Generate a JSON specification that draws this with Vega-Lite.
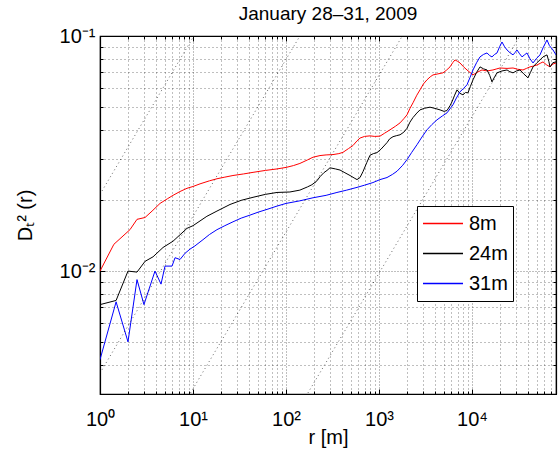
{
  "$schema": "https://vega.github.io/schema/vega-lite/v6.json",
  "width": 456,
  "height": 358,
  "autosize": {"type": "none"},
  "padding": {"left": 100, "top": 36, "right": 2, "bottom": 61},
  "background": "white",
  "title": {"text": "January 28–31, 2009", "fontSize": 19, "font": "Liberation Sans", "fontWeight": "normal", "offset": 2, "color": "black"},
  "config": {
    "view": {"stroke": "black", "strokeWidth": 1.2},
    "axis": {
      "labelFont": "Liberation Sans", "labelFontSize": 20, "labelColor": "black",
      "titleFont": "Liberation Sans", "titleFontSize": 20, "titleFontWeight": "normal", "titleColor": "black",
      "domainColor": "black", "domainWidth": 1.2, "tickColor": "black", "tickSize": -5, "tickWidth": 1,
      "gridColor": "#000000", "gridOpacity": 0.5, "gridWidth": 1,
      "labelOverlap": false, "labelFlush": false
    },
    "legend": {
      "orient": "none", "legendX": 317, "legendY": 170,
      "strokeColor": "black", "fillColor": "white", "padding": 5, "cornerRadius": 0,
      "labelFont": "Liberation Sans", "labelFontSize": 20, "labelColor": "black", "labelOffset": 5,
      "clipHeight": 25, "rowPadding": 5
    }
  },
  "datasets": {
    "refs": [
      {"k": "A", "r": 1, "D": 0.0212}, {"k": "A", "r": 10.2, "D": 0.1},
      {"k": "B", "r": 1, "D": 0.00368}, {"k": "B", "r": 141, "D": 0.1},
      {"k": "C", "r": 9.4, "D": 0.00303}, {"k": "C", "r": 1780, "D": 0.1},
      {"k": "D", "r": 172, "D": 0.00303}, {"k": "D", "r": 32700, "D": 0.1}
    ],
    "curves": [
      {"s": "8m", "r": 1, "D": 0.0100}, {"s": "8m", "r": 1.41, "D": 0.0130}, {"s": "8m", "r": 2.1, "D": 0.0150}, {"s": "8m", "r": 2.5, "D": 0.0166},
      {"s": "8m", "r": 3.05, "D": 0.0169}, {"s": "8m", "r": 3.63, "D": 0.0180}, {"s": "8m", "r": 4.42, "D": 0.0194}, {"s": "8m", "r": 5.3, "D": 0.0203},
      {"s": "8m", "r": 6.1, "D": 0.0210}, {"s": "8m", "r": 7.25, "D": 0.0218}, {"s": "8m", "r": 8.62, "D": 0.0225}, {"s": "8m", "r": 10, "D": 0.0229},
      {"s": "8m", "r": 11.9, "D": 0.0235}, {"s": "8m", "r": 15, "D": 0.0242}, {"s": "8m", "r": 18.1, "D": 0.0247}, {"s": "8m", "r": 22, "D": 0.0251},
      {"s": "8m", "r": 26.9, "D": 0.0255}, {"s": "8m", "r": 35, "D": 0.0259}, {"s": "8m", "r": 44.2, "D": 0.0263}, {"s": "8m", "r": 60, "D": 0.0268},
      {"s": "8m", "r": 80, "D": 0.0272}, {"s": "8m", "r": 100, "D": 0.0276}, {"s": "8m", "r": 120, "D": 0.0281}, {"s": "8m", "r": 141, "D": 0.0287},
      {"s": "8m", "r": 170, "D": 0.0297}, {"s": "8m", "r": 195, "D": 0.0305}, {"s": "8m", "r": 232, "D": 0.0310}, {"s": "8m", "r": 270, "D": 0.0312},
      {"s": "8m", "r": 320, "D": 0.0313}, {"s": "8m", "r": 370, "D": 0.0316}, {"s": "8m", "r": 410, "D": 0.0320}, {"s": "8m", "r": 470, "D": 0.0332},
      {"s": "8m", "r": 525, "D": 0.0342}, {"s": "8m", "r": 580, "D": 0.0358}, {"s": "8m", "r": 625, "D": 0.0368}, {"s": "8m", "r": 700, "D": 0.0374},
      {"s": "8m", "r": 800, "D": 0.0376}, {"s": "8m", "r": 900, "D": 0.0374}, {"s": "8m", "r": 1025, "D": 0.0375}, {"s": "8m", "r": 1150, "D": 0.0386},
      {"s": "8m", "r": 1313, "D": 0.0399}, {"s": "8m", "r": 1500, "D": 0.0413}, {"s": "8m", "r": 1683, "D": 0.0427}, {"s": "8m", "r": 1850, "D": 0.0445},
      {"s": "8m", "r": 2000, "D": 0.0462}, {"s": "8m", "r": 2150, "D": 0.0492}, {"s": "8m", "r": 2321, "D": 0.0520}, {"s": "8m", "r": 2550, "D": 0.0560},
      {"s": "8m", "r": 2760, "D": 0.0590}, {"s": "8m", "r": 3000, "D": 0.0625}, {"s": "8m", "r": 3282, "D": 0.0651}, {"s": "8m", "r": 3550, "D": 0.0670},
      {"s": "8m", "r": 3806, "D": 0.0683}, {"s": "8m", "r": 4300, "D": 0.0690}, {"s": "8m", "r": 4877, "D": 0.0697}, {"s": "8m", "r": 5300, "D": 0.0715},
      {"s": "8m", "r": 5800, "D": 0.0739}, {"s": "8m", "r": 6200, "D": 0.0770}, {"s": "8m", "r": 6565, "D": 0.0791}, {"s": "8m", "r": 7000, "D": 0.0780},
      {"s": "8m", "r": 7430, "D": 0.0768}, {"s": "8m", "r": 8100, "D": 0.0740}, {"s": "8m", "r": 8830, "D": 0.0717}, {"s": "8m", "r": 9500, "D": 0.0700},
      {"s": "8m", "r": 10250, "D": 0.0683}, {"s": "8m", "r": 11300, "D": 0.0700}, {"s": "8m", "r": 12800, "D": 0.0717}, {"s": "8m", "r": 14500, "D": 0.0710},
      {"s": "8m", "r": 16800, "D": 0.0717}, {"s": "8m", "r": 18500, "D": 0.0725}, {"s": "8m", "r": 20000, "D": 0.0731}, {"s": "8m", "r": 23800, "D": 0.0728},
      {"s": "8m", "r": 27600, "D": 0.0731}, {"s": "8m", "r": 31000, "D": 0.0722}, {"s": "8m", "r": 35300, "D": 0.0717}, {"s": "8m", "r": 38500, "D": 0.0728},
      {"s": "8m", "r": 42000, "D": 0.0739}, {"s": "8m", "r": 46000, "D": 0.0745}, {"s": "8m", "r": 50000, "D": 0.0753}, {"s": "8m", "r": 54000, "D": 0.0765},
      {"s": "8m", "r": 58000, "D": 0.0776}, {"s": "8m", "r": 63000, "D": 0.0755}, {"s": "8m", "r": 69000, "D": 0.0739}, {"s": "8m", "r": 74000, "D": 0.0760},
      {"s": "8m", "r": 80000, "D": 0.0768},

      {"s": "24m", "r": 1, "D": 0.0072}, {"s": "24m", "r": 1.49, "D": 0.0075}, {"s": "24m", "r": 2.0, "D": 0.0100}, {"s": "24m", "r": 2.5, "D": 0.0099},
      {"s": "24m", "r": 3.05, "D": 0.0110}, {"s": "24m", "r": 3.72, "D": 0.0115}, {"s": "24m", "r": 4.76, "D": 0.0126}, {"s": "24m", "r": 6.1, "D": 0.0134},
      {"s": "24m", "r": 8.62, "D": 0.0152}, {"s": "24m", "r": 10, "D": 0.0156}, {"s": "24m", "r": 14.1, "D": 0.0171}, {"s": "24m", "r": 18.1, "D": 0.0180},
      {"s": "24m", "r": 25, "D": 0.0192}, {"s": "24m", "r": 33, "D": 0.0200}, {"s": "24m", "r": 44.2, "D": 0.0206}, {"s": "24m", "r": 60, "D": 0.0212},
      {"s": "24m", "r": 80, "D": 0.0216}, {"s": "24m", "r": 110, "D": 0.0217}, {"s": "24m", "r": 141, "D": 0.0221}, {"s": "24m", "r": 170, "D": 0.0228},
      {"s": "24m", "r": 190, "D": 0.0233}, {"s": "24m", "r": 215, "D": 0.0242}, {"s": "24m", "r": 232, "D": 0.0252}, {"s": "24m", "r": 255, "D": 0.0262},
      {"s": "24m", "r": 276, "D": 0.0268}, {"s": "24m", "r": 297, "D": 0.0275}, {"s": "24m", "r": 340, "D": 0.0272}, {"s": "24m", "r": 381, "D": 0.0269},
      {"s": "24m", "r": 430, "D": 0.0262}, {"s": "24m", "r": 488, "D": 0.0255}, {"s": "24m", "r": 540, "D": 0.0249}, {"s": "24m", "r": 580, "D": 0.0245},
      {"s": "24m", "r": 625, "D": 0.0250}, {"s": "24m", "r": 673, "D": 0.0265}, {"s": "24m", "r": 740, "D": 0.0290}, {"s": "24m", "r": 800, "D": 0.0311},
      {"s": "24m", "r": 870, "D": 0.0316}, {"s": "24m", "r": 951, "D": 0.0319}, {"s": "24m", "r": 1050, "D": 0.0330}, {"s": "24m", "r": 1219, "D": 0.0352},
      {"s": "24m", "r": 1300, "D": 0.0365}, {"s": "24m", "r": 1415, "D": 0.0373}, {"s": "24m", "r": 1550, "D": 0.0377}, {"s": "24m", "r": 1683, "D": 0.0380},
      {"s": "24m", "r": 1850, "D": 0.0390}, {"s": "24m", "r": 2000, "D": 0.0405}, {"s": "24m", "r": 2150, "D": 0.0430}, {"s": "24m", "r": 2321, "D": 0.0450},
      {"s": "24m", "r": 2550, "D": 0.0470}, {"s": "24m", "r": 2760, "D": 0.0485}, {"s": "24m", "r": 3100, "D": 0.0493}, {"s": "24m", "r": 3532, "D": 0.0498},
      {"s": "24m", "r": 4000, "D": 0.0492}, {"s": "24m", "r": 4530, "D": 0.0485}, {"s": "24m", "r": 5000, "D": 0.0478}, {"s": "24m", "r": 5383, "D": 0.0482},
      {"s": "24m", "r": 5800, "D": 0.0505}, {"s": "24m", "r": 6095, "D": 0.0525}, {"s": "24m", "r": 6500, "D": 0.0560}, {"s": "24m", "r": 6900, "D": 0.0590},
      {"s": "24m", "r": 7430, "D": 0.0570}, {"s": "24m", "r": 8000, "D": 0.0562}, {"s": "24m", "r": 8500, "D": 0.0575}, {"s": "24m", "r": 9050, "D": 0.0573},
      {"s": "24m", "r": 9600, "D": 0.0610}, {"s": "24m", "r": 10250, "D": 0.0651}, {"s": "24m", "r": 11200, "D": 0.0700}, {"s": "24m", "r": 12190, "D": 0.0739},
      {"s": "24m", "r": 13300, "D": 0.0725}, {"s": "24m", "r": 14500, "D": 0.0717}, {"s": "24m", "r": 15500, "D": 0.0680}, {"s": "24m", "r": 16400, "D": 0.0638},
      {"s": "24m", "r": 17500, "D": 0.0670}, {"s": "24m", "r": 18570, "D": 0.0697}, {"s": "24m", "r": 21000, "D": 0.0710}, {"s": "24m", "r": 23800, "D": 0.0717},
      {"s": "24m", "r": 25500, "D": 0.0705}, {"s": "24m", "r": 27600, "D": 0.0697}, {"s": "24m", "r": 30000, "D": 0.0710}, {"s": "24m", "r": 32800, "D": 0.0717},
      {"s": "24m", "r": 36000, "D": 0.0690}, {"s": "24m", "r": 40000, "D": 0.0664}, {"s": "24m", "r": 42500, "D": 0.0700}, {"s": "24m", "r": 45300, "D": 0.0739},
      {"s": "24m", "r": 50000, "D": 0.0770}, {"s": "24m", "r": 53800, "D": 0.0791}, {"s": "24m", "r": 58000, "D": 0.0815}, {"s": "24m", "r": 64000, "D": 0.0831},
      {"s": "24m", "r": 67000, "D": 0.0780}, {"s": "24m", "r": 69000, "D": 0.0739}, {"s": "24m", "r": 74000, "D": 0.0770}, {"s": "24m", "r": 80000, "D": 0.0776},

      {"s": "31m", "r": 1, "D": 0.0042}, {"s": "31m", "r": 1.49, "D": 0.0074}, {"s": "31m", "r": 2.0, "D": 0.0050}, {"s": "31m", "r": 2.5, "D": 0.0092},
      {"s": "31m", "r": 2.97, "D": 0.0072}, {"s": "31m", "r": 3.9, "D": 0.0100}, {"s": "31m", "r": 4.53, "D": 0.0088}, {"s": "31m", "r": 5.0, "D": 0.0105},
      {"s": "31m", "r": 5.95, "D": 0.0105}, {"s": "31m", "r": 6.41, "D": 0.0114}, {"s": "31m", "r": 7.25, "D": 0.0112}, {"s": "31m", "r": 8.2, "D": 0.0119},
      {"s": "31m", "r": 9.29, "D": 0.0124}, {"s": "31m", "r": 10.5, "D": 0.0128}, {"s": "31m", "r": 12.8, "D": 0.0136}, {"s": "31m", "r": 15, "D": 0.0143},
      {"s": "31m", "r": 18.1, "D": 0.0150}, {"s": "31m", "r": 22, "D": 0.0156}, {"s": "31m", "r": 26.9, "D": 0.0162}, {"s": "31m", "r": 33, "D": 0.0168},
      {"s": "31m", "r": 41, "D": 0.0173}, {"s": "31m", "r": 50, "D": 0.0178}, {"s": "31m", "r": 62.5, "D": 0.0183}, {"s": "31m", "r": 80, "D": 0.0189},
      {"s": "31m", "r": 100, "D": 0.0194}, {"s": "31m", "r": 141, "D": 0.0199}, {"s": "31m", "r": 195, "D": 0.0205}, {"s": "31m", "r": 270, "D": 0.0210},
      {"s": "31m", "r": 353, "D": 0.0216}, {"s": "31m", "r": 450, "D": 0.0221}, {"s": "31m", "r": 580, "D": 0.0227}, {"s": "31m", "r": 700, "D": 0.0232},
      {"s": "31m", "r": 861, "D": 0.0238}, {"s": "31m", "r": 1025, "D": 0.0245}, {"s": "31m", "r": 1219, "D": 0.0250}, {"s": "31m", "r": 1400, "D": 0.0258},
      {"s": "31m", "r": 1563, "D": 0.0266}, {"s": "31m", "r": 1800, "D": 0.0282}, {"s": "31m", "r": 2000, "D": 0.0298}, {"s": "31m", "r": 2250, "D": 0.0320},
      {"s": "31m", "r": 2563, "D": 0.0345}, {"s": "31m", "r": 2900, "D": 0.0372}, {"s": "31m", "r": 3282, "D": 0.0399}, {"s": "31m", "r": 3700, "D": 0.0420},
      {"s": "31m", "r": 4204, "D": 0.0440}, {"s": "31m", "r": 4800, "D": 0.0457}, {"s": "31m", "r": 5383, "D": 0.0471}, {"s": "31m", "r": 5800, "D": 0.0490},
      {"s": "31m", "r": 6250, "D": 0.0510}, {"s": "31m", "r": 6800, "D": 0.0545}, {"s": "31m", "r": 7430, "D": 0.0579}, {"s": "31m", "r": 8100, "D": 0.0598},
      {"s": "31m", "r": 8830, "D": 0.0620}, {"s": "31m", "r": 9500, "D": 0.0665}, {"s": "31m", "r": 10250, "D": 0.0717}, {"s": "31m", "r": 11200, "D": 0.0770},
      {"s": "31m", "r": 12190, "D": 0.0815}, {"s": "31m", "r": 13300, "D": 0.0835}, {"s": "31m", "r": 14500, "D": 0.0847}, {"s": "31m", "r": 15500, "D": 0.0825},
      {"s": "31m", "r": 16400, "D": 0.0815}, {"s": "31m", "r": 17500, "D": 0.0835}, {"s": "31m", "r": 18570, "D": 0.0847}, {"s": "31m", "r": 19800, "D": 0.0900},
      {"s": "31m", "r": 21000, "D": 0.0943}, {"s": "31m", "r": 22400, "D": 0.0900}, {"s": "31m", "r": 23800, "D": 0.0872}, {"s": "31m", "r": 25500, "D": 0.0850},
      {"s": "31m", "r": 27600, "D": 0.0831}, {"s": "31m", "r": 29000, "D": 0.0850}, {"s": "31m", "r": 30460, "D": 0.0872}, {"s": "31m", "r": 32500, "D": 0.0840},
      {"s": "31m", "r": 34500, "D": 0.0815}, {"s": "31m", "r": 36500, "D": 0.0830}, {"s": "31m", "r": 39000, "D": 0.0847}, {"s": "31m", "r": 42000, "D": 0.0800},
      {"s": "31m", "r": 45300, "D": 0.0768}, {"s": "31m", "r": 49000, "D": 0.0800}, {"s": "31m", "r": 53800, "D": 0.0831}, {"s": "31m", "r": 58000, "D": 0.0890},
      {"s": "31m", "r": 64000, "D": 0.0962}, {"s": "31m", "r": 68000, "D": 0.0910}, {"s": "31m", "r": 74300, "D": 0.0872}, {"s": "31m", "r": 80000, "D": 0.0831}
    ]
  },
  "layer": [
    {
      "data": {"name": "curves"},
      "mark": {"type": "line", "strokeWidth": 1, "clip": true},
      "encoding": {
        "x": {"field": "r", "type": "quantitative", "scale": {"type": "log", "domain": [1, 80000], "nice": false},
          "axis": {"orient": "bottom", "grid": true, "title": "r [m]", "titlePadding": -2, "labelPadding": 20,
            "values": [1,2,3,4,5,6,7,8,9,10,20,30,40,50,60,70,80,90,100,200,300,400,500,600,700,800,900,1000,2000,3000,4000,5000,6000,7000,8000,9000,10000,20000,30000,40000,50000,60000,70000,80000],
            "labelExpr": "datum.value == 1 ? '10⁰' : datum.value == 10 ? '10¹' : datum.value == 100 ? '10²' : datum.value == 1000 ? '10³' : datum.value == 10000 ? '10⁴' : ''",
            "gridDash": {"condition": {"test": "indexof([1,10,100,1000,10000], datum.value) >= 0", "value": [1, 2]}, "value": [1, 3]},
            "tickDash": {"condition": {"test": "indexof([1,10,100,1000,10000], datum.value) < 0", "value": [3, 10]}, "value": [10, 0]}}},
        "y": {"field": "D", "type": "quantitative", "scale": {"type": "log", "domain": [0.003, 0.1], "nice": false},
          "axis": {"orient": "left", "grid": true, "title": "Dₜ² (r)", "titlePadding": 24, "labelPadding": 10,
            "values": [0.003,0.004,0.005,0.006,0.007,0.008,0.009,0.01,0.02,0.03,0.04,0.05,0.06,0.07,0.08,0.09,0.1],
            "labelExpr": "datum.value == 0.1 ? '10⁻¹' : datum.value == 0.01 ? '10⁻²' : ''",
            "gridDash": {"condition": {"test": "datum.value == 0.1 || datum.value == 0.01", "value": [1, 2]}, "value": [1, 3]},
            "tickDash": {"condition": {"test": "datum.value != 0.1 && datum.value != 0.01", "value": [3, 10]}, "value": [10, 0]}}},
        "stroke": {"field": "s", "type": "nominal", "scale": {"domain": ["8m", "24m", "31m"], "range": ["#ff0000", "#000000", "#0000ff"]},
          "legend": {"title": null, "symbolType": "stroke", "symbolSize": 1600, "symbolStrokeWidth": 1.5}}
      }
    },
    {
      "data": {"name": "refs"},
      "mark": {"type": "line", "stroke": "black", "strokeWidth": 1, "strokeDash": [1, 3], "opacity": 0.6, "clip": true},
      "encoding": {
        "x": {"field": "r", "type": "quantitative", "scale": {"type": "log", "domain": [1, 80000], "nice": false},
          "axis": {"orient": "top", "labels": false, "grid": false, "title": null,
            "values": [1,2,3,4,5,6,7,8,9,10,20,30,40,50,60,70,80,90,100,200,300,400,500,600,700,800,900,1000,2000,3000,4000,5000,6000,7000,8000,9000,10000,20000,30000,40000,50000,60000,70000,80000],
            "tickDash": {"condition": {"test": "indexof([1,10,100,1000,10000], datum.value) < 0", "value": [3, 10]}, "value": [10, 0]}}},
        "y": {"field": "D", "type": "quantitative", "scale": {"type": "log", "domain": [0.003, 0.1], "nice": false},
          "axis": {"orient": "right", "labels": false, "grid": false, "title": null,
            "values": [0.003,0.004,0.005,0.006,0.007,0.008,0.009,0.01,0.02,0.03,0.04,0.05,0.06,0.07,0.08,0.09,0.1],
            "tickDash": {"condition": {"test": "datum.value != 0.1 && datum.value != 0.01", "value": [3, 10]}, "value": [10, 0]}}},
        "detail": {"field": "k"}
      }
    }
  ],
  "resolve": {"axis": {"x": "independent", "y": "independent"}}
}
